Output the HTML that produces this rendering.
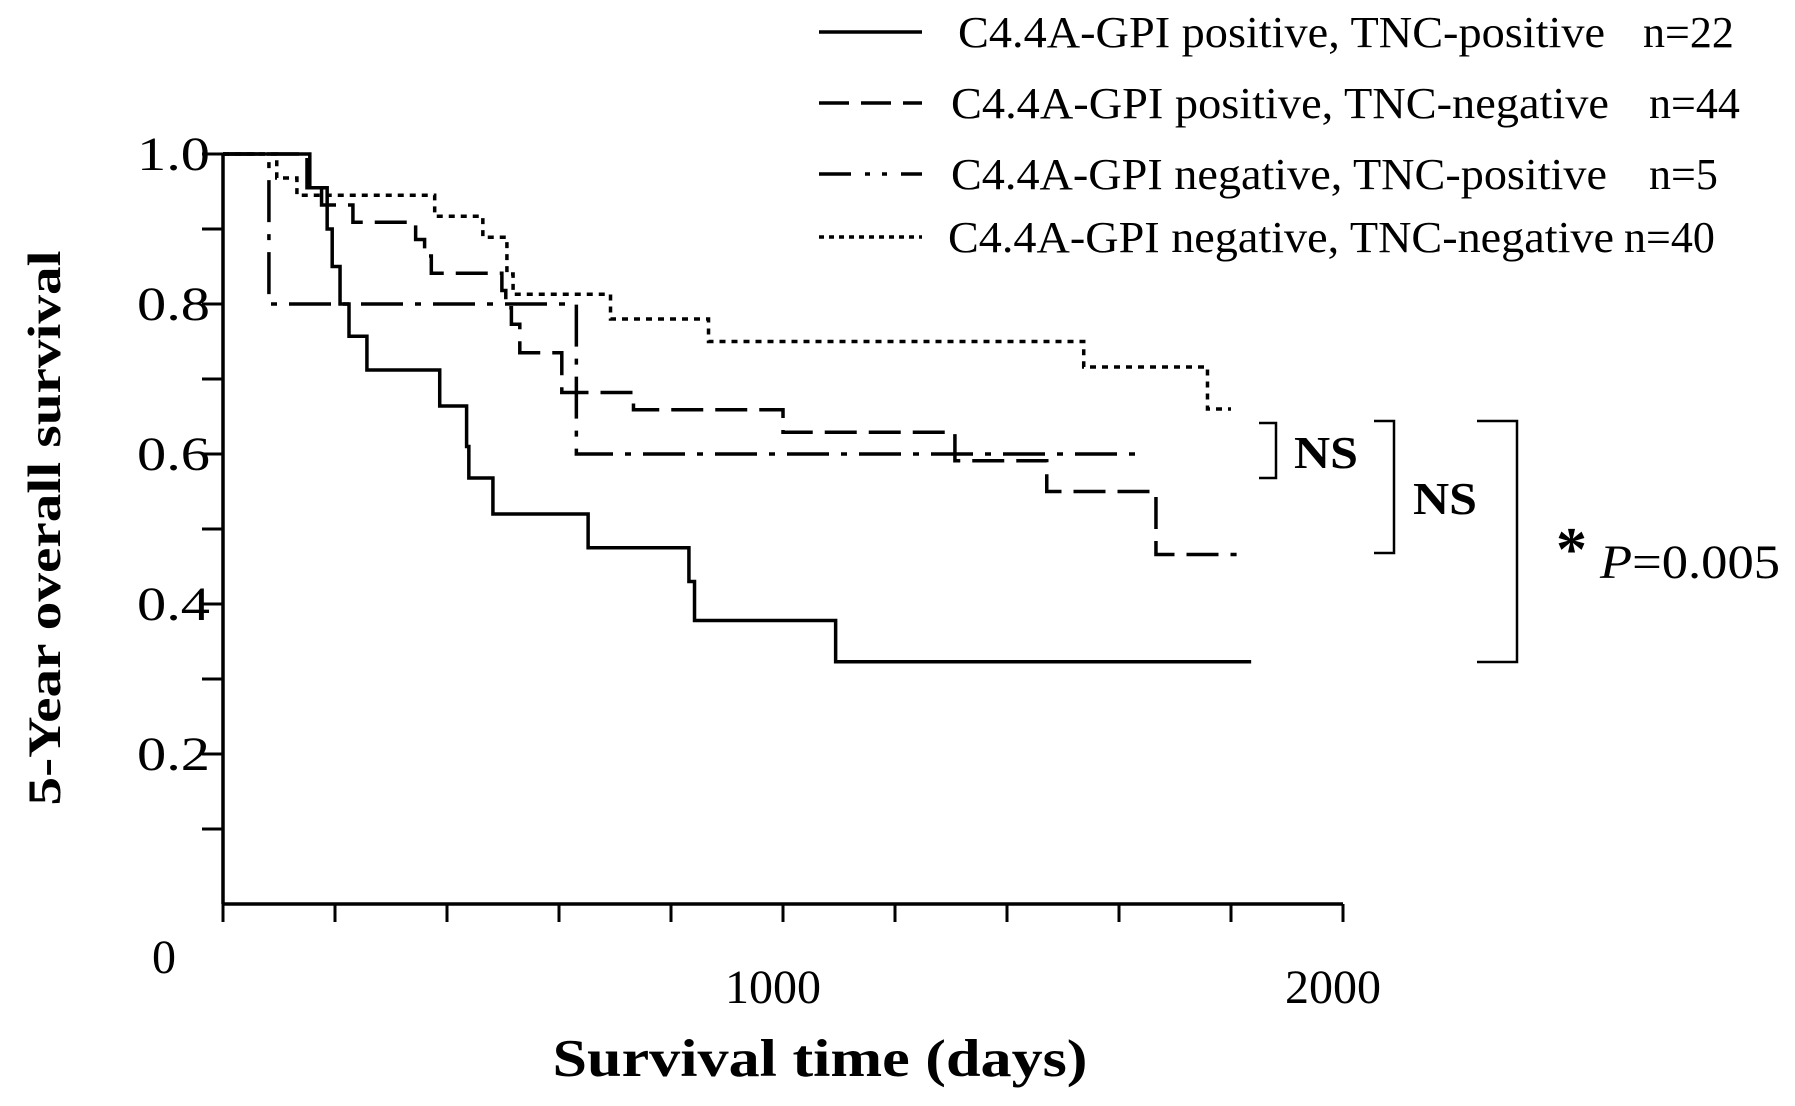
<!DOCTYPE html>
<html><head><meta charset="utf-8"><style>
html,body{margin:0;padding:0;background:#fff;}
svg{display:block;font-family:"Liberation Serif",serif;}
</style></head><body>
<svg id="chart" width="1795" height="1106" viewBox="0 0 1795 1106"></svg>
<script>
const xTickValues = [0,200,400,600,800,1000,1200,1400,1600,1800,2000];
const xTickLabels = ["1000","2000"];
const xTickLabelValues = [1000,2000];
const yTickValues = [0.1,0.2,0.3,0.4,0.5,0.6,0.7,0.8,0.9,1.0];
const yTickLabels = ["0.2","0.4","0.6","0.8","1.0"];
const yTickLabelValues = [0.2,0.4,0.6,0.8,1.0];
const seriesNames = ["C4.4A-GPI positive, TNC-positive","C4.4A-GPI positive, TNC-negative","C4.4A-GPI negative, TNC-positive","C4.4A-GPI negative, TNC-negative"];
const seriesN = ["n=22","n=44","n=5","n=40"];
const s1Days = [0,155,186,195,209,225,257,387,435,439,482,652,832,842,1094,1836];
const s1Surv = [1,0.955,0.90,0.85,0.80,0.757,0.712,0.664,0.61,0.568,0.52,0.475,0.43,0.378,0.323,0.323];
const s2Days = [0,150,176,232,344,360,372,498,505,515,530,605,733,1000,1307,1471,1666,1810];
const s2Surv = [1,0.955,0.932,0.909,0.886,0.864,0.841,0.818,0.795,0.773,0.735,0.682,0.659,0.629,0.591,0.55,0.466,0.466];
const s3Days = [0,82,631,1645];
const s3Surv = [1,0.8,0.6,0.6];
const s4Days = [0,96,132,378,464,507,518,692,867,1537,1758,1800];
const s4Surv = [1,0.968,0.945,0.917,0.889,0.84,0.813,0.78,0.75,0.716,0.66,0.66];

const svg = document.getElementById('chart');
const NS = 'http://www.w3.org/2000/svg';
const X0 = 223, X1 = 1343, Y0 = 904, Y1 = 154;
function xs(d){ return X0 + d/2000*(X1-X0); }
function ys(v){ return Y0 - v*(Y0-Y1); }
function mk(tag, attrs){ const e = document.createElementNS(NS, tag); for (const k in attrs) e.setAttribute(k, attrs[k]); svg.appendChild(e); return e; }

let e = mk('line',{x1:X0,y1:Y1,x2:X0,y2:Y0,stroke:'#000','stroke-width':3.5});
 
e = mk('line',{x1:X0,y1:Y0,x2:X1,y2:Y0,stroke:'#000','stroke-width':3.5});
 
xTickValues.forEach(v=>{
  const t = mk('line',{x1:xs(v),y1:Y0,x2:xs(v),y2:Y0+18,stroke:'#000','stroke-width':3});
   
});
yTickValues.forEach(v=>{
  const t = mk('line',{x1:X0-21,y1:ys(v),x2:X0,y2:ys(v),stroke:'#000','stroke-width':3});
   
});
yTickLabels.forEach((l,i)=>{
  const t = mk('text',{x:137,y:ys(yTickLabelValues[i])+16,'font-size':48,textLength:73,lengthAdjust:'spacingAndGlyphs'});
  t.textContent = l;
   
});
xTickLabels.forEach((l,i)=>{
  const t = mk('text',{x:xs(xTickLabelValues[i])-58,y:1003,'font-size':48,textLength:96,lengthAdjust:'spacingAndGlyphs'});
  t.textContent = l;
   
});
e = mk('text',{x:164,y:973,'font-size':48,'text-anchor':'middle'}); e.textContent='0';
 

e = mk('text',{x:820,y:1076,'font-size':53,'font-weight':'bold','text-anchor':'middle',textLength:535,lengthAdjust:'spacingAndGlyphs'});
e.textContent='Survival time (days)';
 
e = mk('text',{x:0,y:0,'font-size':47,'font-weight':'bold','text-anchor':'middle',transform:'translate(60,528) rotate(-90)',textLength:555,lengthAdjust:'spacingAndGlyphs'});
e.textContent='5-Year overall survival';
 

const dashes = ['none','32 12','42 12 6 12','6 6'];
const allDays = [s1Days,s2Days,s3Days,s4Days];
const allSurv = [s1Surv,s2Surv,s3Surv,s4Surv];
const seriesKeys = ['curve-pos-pos','curve-pos-neg','curve-neg-pos','curve-neg-neg'];
allDays.forEach((days,si)=>{
  const surv = allSurv[si];
  let d = 'M'+xs(days[0])+','+ys(surv[0]);
  for (let i=1;i<days.length;i++){ d += ' H'+xs(days[i])+' V'+ys(surv[i]); }
  const p = mk('path',{d:d,fill:'none',stroke:'#000','stroke-width':3.5,'stroke-dasharray':dashes[si]});
   
});

const legY = [32,103,174,237];
const legX = [958,951,951,948];
const legW = [647,658,656,666];
const nX = [1643,1649,1649,1624];
const legDash = ['none','30 12','32 14 5 12 5 14','5 5'];
seriesNames.forEach((nm,i)=>{
  const l = mk('line',{x1:819,y1:legY[i],x2:922,y2:legY[i],stroke:'#000','stroke-width':3.5,'stroke-dasharray':legDash[i]});
   
  const t = mk('text',{x:legX[i],y:legY[i]+15,'font-size':44,textLength:legW[i],lengthAdjust:'spacingAndGlyphs'});
  t.textContent = nm;
   
  const n = mk('text',{x:nX[i],y:legY[i]+15,'font-size':44});
  n.textContent = seriesN[i];
   
});

function bracket(x1,x2,ya,yb,name){
  const b = mk('path',{d:'M'+x1+','+ya+' H'+x2+' V'+yb+' H'+x1,fill:'none',stroke:'#000','stroke-width':2.5});
   
}
bracket(1259,1276,423,478,'bracket-1');
bracket(1374,1394,421,553,'bracket-2');
bracket(1477,1517,421,662,'bracket-3');
e = mk('text',{x:1294,y:468,'font-size':46,'font-weight':'bold',textLength:64,lengthAdjust:'spacingAndGlyphs'}); e.textContent='NS';
 
e = mk('text',{x:1413,y:514,'font-size':46,'font-weight':'bold',textLength:64,lengthAdjust:'spacingAndGlyphs'}); e.textContent='NS';
 
e = mk('text',{x:1556,y:570,'font-size':62,'font-weight':'bold'}); e.textContent='*';
 
e = mk('text',{x:1600,y:578,'font-size':48,textLength:180,lengthAdjust:'spacingAndGlyphs'});
e.innerHTML='<tspan font-style="italic">P</tspan>=0.005';
 
</script>
</body></html>
